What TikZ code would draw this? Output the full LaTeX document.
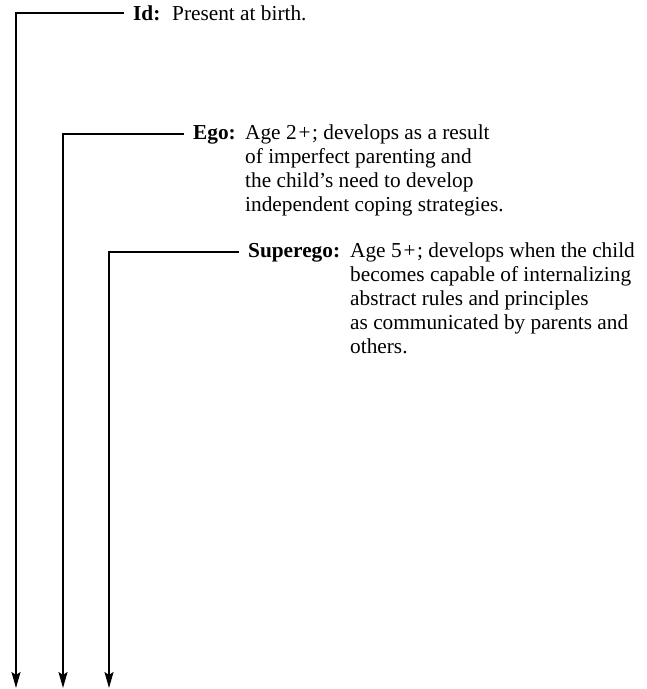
\documentclass[tikz,border=0pt]{standalone}
\usepackage{fontspec}
\setmainfont{Liberation Serif}
\usetikzlibrary{arrows.meta}
\newcommand{\plussign}{\kern2pt+\kern1.5pt}
\begin{document}
\begin{tikzpicture}[x=1pt,y=-1pt,
  conn/.style={line width=1.9pt,line join=miter,-{Stealth[length=16pt,width=9pt,inset=3pt]}},
  lbl/.style={anchor=base west,inner xsep=9pt,inner ysep=0pt,font=\fontsize{21.3}{24}\selectfont\bfseries},
  txt/.style={anchor=base west,inner sep=0pt,font=\fontsize{21.3}{24}\selectfont}]
\useasboundingbox (0,0) rectangle (647,689);
% labels
\node[lbl] (idl) at (124,20) {Id:};
\node[txt] (idt) at (172,20) {Present at birth.};
\node[lbl] (egol) at (184,139) {Ego:};
\node[txt] (egot) at (245,139) {\begin{tabular}[t]{@{}l@{}}Age 2\plussign; develops as a result\\ of imperfect parenting and\\ the child’s need to develop\\ independent coping strategies.\end{tabular}};
\node[lbl] (sul) at (239,257) {Superego:};
\node[txt] (sut) at (350,257) {\begin{tabular}[t]{@{}l@{}}Age 5\plussign; develops when the child\\ becomes capable of internalizing\\ abstract rules and principles\\ as communicated by parents and\\ others.\end{tabular}};
% arrow ends
\coordinate (idend) at (16,688);
\coordinate (egoend) at (63,688);
\coordinate (suend) at (109,688);
\draw[conn] (idl.west) -| (idend);
\draw[conn] (egol.west) -| (egoend);
\draw[conn] (sul.west) -| (suend);
\end{tikzpicture}
\end{document}
